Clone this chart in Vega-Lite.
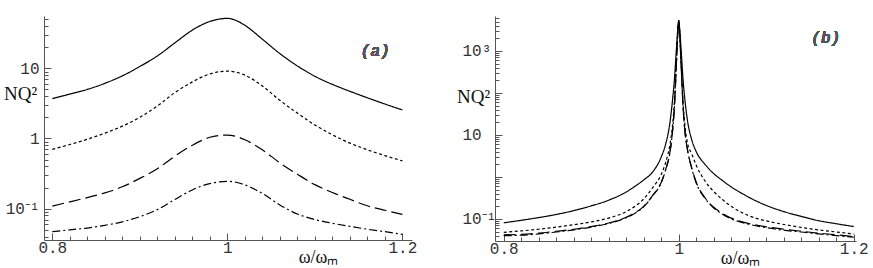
{
  "$schema": "https://vega.github.io/schema/vega-lite/v6.json",
  "padding": {"left": 3, "top": 10, "right": 0, "bottom": 0},
  "spacing": 39,
  "config": {
    "view": {"stroke": null},
    "axis": {"grid": false, "domainColor": "#555", "tickColor": "#555", "labelFont": "Liberation Mono", "labelFontSize": 16, "labelColor": "#333", "labelOverlap": false, "labelFlush": false, "labelBound": false, "titleFontWeight": "normal", "titleColor": "#111", "titleFont": "Liberation Serif", "titleFontSize": 19}
  },
  "hconcat": [
    {
      "width": 368, "height": 224,
      "data": {"values": [
        {"x":0.8,"s":"solid","v":3.7},{"x":0.82,"s":"solid","v":4.3},{"x":0.84,"s":"solid","v":5.0},{"x":0.86,"s":"solid","v":6.1},{"x":0.88,"s":"solid","v":7.8},{"x":0.9,"s":"solid","v":10.6},{"x":0.92,"s":"solid","v":15.0},{"x":0.94,"s":"solid","v":23},{"x":0.96,"s":"solid","v":35},{"x":0.98,"s":"solid","v":46.5},{"x":0.99,"s":"solid","v":50},{"x":1.0,"s":"solid","v":51.5},{"x":1.01,"s":"solid","v":48},{"x":1.02,"s":"solid","v":41},{"x":1.04,"s":"solid","v":26},{"x":1.06,"s":"solid","v":16.2},{"x":1.08,"s":"solid","v":10.8},{"x":1.1,"s":"solid","v":7.7},{"x":1.12,"s":"solid","v":5.9},{"x":1.14,"s":"solid","v":4.7},{"x":1.16,"s":"solid","v":3.8},{"x":1.18,"s":"solid","v":3.1},{"x":1.2,"s":"solid","v":2.55},
        {"x":0.8,"s":"short","v":0.70},{"x":0.82,"s":"short","v":0.82},{"x":0.84,"s":"short","v":0.975},{"x":0.86,"s":"short","v":1.19},{"x":0.88,"s":"short","v":1.5},{"x":0.9,"s":"short","v":2.0},{"x":0.92,"s":"short","v":2.9},{"x":0.94,"s":"short","v":4.5},{"x":0.96,"s":"short","v":6.4},{"x":0.98,"s":"short","v":8.3},{"x":0.99,"s":"short","v":8.9},{"x":1.0,"s":"short","v":9.1},{"x":1.01,"s":"short","v":8.8},{"x":1.02,"s":"short","v":8.0},{"x":1.04,"s":"short","v":5.6},{"x":1.06,"s":"short","v":3.5},{"x":1.08,"s":"short","v":2.3},{"x":1.1,"s":"short","v":1.56},{"x":1.12,"s":"short","v":1.13},{"x":1.14,"s":"short","v":0.86},{"x":1.16,"s":"short","v":0.69},{"x":1.18,"s":"short","v":0.57},{"x":1.2,"s":"short","v":0.48},
        {"x":0.8,"s":"long","v":0.109},{"x":0.82,"s":"long","v":0.125},{"x":0.84,"s":"long","v":0.144},{"x":0.86,"s":"long","v":0.168},{"x":0.88,"s":"long","v":0.205},{"x":0.9,"s":"long","v":0.27},{"x":0.92,"s":"long","v":0.37},{"x":0.94,"s":"long","v":0.56},{"x":0.96,"s":"long","v":0.8},{"x":0.98,"s":"long","v":1.04},{"x":0.99,"s":"long","v":1.1},{"x":1.0,"s":"long","v":1.12},{"x":1.01,"s":"long","v":1.07},{"x":1.02,"s":"long","v":0.96},{"x":1.04,"s":"long","v":0.69},{"x":1.06,"s":"long","v":0.45},{"x":1.08,"s":"long","v":0.31},{"x":1.1,"s":"long","v":0.22},{"x":1.12,"s":"long","v":0.17},{"x":1.14,"s":"long","v":0.136},{"x":1.16,"s":"long","v":0.11},{"x":1.18,"s":"long","v":0.095},{"x":1.2,"s":"long","v":0.083},
        {"x":0.8,"s":"dashdot","v":0.047},{"x":0.82,"s":"dashdot","v":0.05},{"x":0.84,"s":"dashdot","v":0.053},{"x":0.86,"s":"dashdot","v":0.058},{"x":0.88,"s":"dashdot","v":0.065},{"x":0.9,"s":"dashdot","v":0.077},{"x":0.92,"s":"dashdot","v":0.097},{"x":0.94,"s":"dashdot","v":0.135},{"x":0.96,"s":"dashdot","v":0.185},{"x":0.98,"s":"dashdot","v":0.228},{"x":0.99,"s":"dashdot","v":0.24},{"x":1.0,"s":"dashdot","v":0.245},{"x":1.01,"s":"dashdot","v":0.238},{"x":1.02,"s":"dashdot","v":0.218},{"x":1.04,"s":"dashdot","v":0.165},{"x":1.06,"s":"dashdot","v":0.113},{"x":1.08,"s":"dashdot","v":0.084},{"x":1.1,"s":"dashdot","v":0.07},{"x":1.12,"s":"dashdot","v":0.062},{"x":1.14,"s":"dashdot","v":0.056},{"x":1.16,"s":"dashdot","v":0.051},{"x":1.18,"s":"dashdot","v":0.047},{"x":1.2,"s":"dashdot","v":0.043}
      ]},
      "layer": [
        {
          "mark": {"type": "line", "color": "black", "strokeWidth": 1.2, "interpolate": "monotone", "clip": true},
          "encoding": {
            "x": {"field": "x", "type": "quantitative", "scale": {"domain": [0.7905, 1.211], "nice": false, "zero": false},
              "axis": {"values": [0.8,0.82,0.84,0.86,0.88,0.9,0.92,0.94,0.96,0.98,1,1.02,1.04,1.06,1.08,1.1,1.12,1.14,1.16,1.18,1.2],
                "labelExpr": "datum.value > 0.99 && datum.value < 1.01 ? '1' : datum.value < 0.81 ? '0.8' : datum.value > 1.19 ? '1.2' : ''",
                "labelOverlap": false,
                "tickSize": {"condition": {"test": "datum.value > 0.99 && datum.value < 1.01 || datum.value < 0.81 || datum.value > 1.19", "value": -7}, "value": -4},
                "labelPadding": 6,
                "title": "ω/ωₘ", "titleX": 274, "titleY": 22, "titleAlign": "center", "titleBaseline": "alphabetic", "titleFontSize": 18}},
            "y": {"field": "v", "type": "quantitative", "scale": {"type": "log", "domain": [0.0358, 55.6], "nice": false},
              "axis": {"values": [0.04,0.05,0.06,0.07,0.08,0.09,0.1,0.2,0.3,0.4,0.5,0.6,0.7,0.8,0.9,1,2,3,4,5,6,7,8,9,10,20,30,40,50],
                "labelExpr": "datum.value == 0.1 ? '10⁻¹' : datum.value == 1 ? '1' : datum.value == 10 ? '10' : ''",
                "labelOverlap": false,
                "tickSize": {"condition": {"test": "datum.value == 0.1 || datum.value == 1 || datum.value == 10", "value": -7}, "value": -4},
                "labelPadding": 12,
                "title": "NQ²", "titleAngle": 0, "titleX": -24, "titleY": 83, "titleAlign": "center", "titleBaseline": "alphabetic", "titleFontSize": 19}},
            "strokeDash": {"field": "s", "type": "nominal", "scale": {"domain": ["solid","short","long","dashdot"], "range": [[1,0],[3,2.5],[12,5],[8,3,2,3]]}, "legend": null}
          }
        },
        {
          "mark": {"type": "text", "text": "(a)", "font": "Liberation Mono", "fontStyle": "italic", "fontWeight": "normal", "fontSize": 16, "align": "center", "baseline": "middle", "color": "#555"},
          "encoding": {
            "x": {"datum": 1.169, "type": "quantitative", "scale": {"domain": [0.7905, 1.211], "nice": false, "zero": false},
              "axis": {"values": [0.8,0.82,0.84,0.86,0.88,0.9,0.92,0.94,0.96,0.98,1,1.02,1.04,1.06,1.08,1.1,1.12,1.14,1.16,1.18,1.2],
                "labelExpr": "datum.value > 0.99 && datum.value < 1.01 ? '1' : datum.value < 0.81 ? '0.8' : datum.value > 1.19 ? '1.2' : ''",
                "labelOverlap": false,
                "tickSize": {"condition": {"test": "datum.value > 0.99 && datum.value < 1.01 || datum.value < 0.81 || datum.value > 1.19", "value": -7}, "value": -4},
                "labelPadding": 6,
                "title": "ω/ωₘ", "titleX": 274, "titleY": 22, "titleAlign": "center", "titleBaseline": "alphabetic", "titleFontSize": 18}},
            "y": {"datum": 17.6, "type": "quantitative", "scale": {"type": "log", "domain": [0.0358, 55.6], "nice": false},
              "axis": {"values": [0.04,0.05,0.06,0.07,0.08,0.09,0.1,0.2,0.3,0.4,0.5,0.6,0.7,0.8,0.9,1,2,3,4,5,6,7,8,9,10,20,30,40,50],
                "labelExpr": "datum.value == 0.1 ? '10⁻¹' : datum.value == 1 ? '1' : datum.value == 10 ? '10' : ''",
                "labelOverlap": false,
                "tickSize": {"condition": {"test": "datum.value == 0.1 || datum.value == 1 || datum.value == 10", "value": -7}, "value": -4},
                "labelPadding": 12,
                "title": "NQ²", "titleAngle": 0, "titleX": -24, "titleY": 83, "titleAlign": "center", "titleBaseline": "alphabetic", "titleFontSize": 19}}
          }
        }
      ]
    },
    {
      "width": 361, "height": 225,
      "data": {"values": [
        {"x":0.8,"s":"solid","v":0.081},{"x":0.82,"s":"solid","v":0.093},{"x":0.84,"s":"solid","v":0.108},{"x":0.86,"s":"solid","v":0.128},{"x":0.88,"s":"solid","v":0.158},{"x":0.9,"s":"solid","v":0.205},{"x":0.92,"s":"solid","v":0.28},{"x":0.94,"s":"solid","v":0.44},{"x":0.95,"s":"solid","v":0.6},{"x":0.96,"s":"solid","v":0.85},{"x":0.97,"s":"solid","v":1.3},{"x":0.98,"s":"solid","v":3.0},{"x":0.985,"s":"solid","v":6.0},{"x":0.99,"s":"solid","v":20},{"x":0.9925,"s":"solid","v":56},{"x":0.995,"s":"solid","v":200},{"x":0.9975,"s":"solid","v":1260},{"x":0.999,"s":"solid","v":3500},{"x":1.0,"s":"solid","v":5300},{"x":1.001,"s":"solid","v":3500},{"x":1.0025,"s":"solid","v":1260},{"x":1.005,"s":"solid","v":200},{"x":1.0075,"s":"solid","v":56},{"x":1.01,"s":"solid","v":22},{"x":1.015,"s":"solid","v":7.5},{"x":1.02,"s":"solid","v":4.0},{"x":1.03,"s":"solid","v":2.0},{"x":1.04,"s":"solid","v":1.2},{"x":1.05,"s":"solid","v":0.82},{"x":1.06,"s":"solid","v":0.58},{"x":1.08,"s":"solid","v":0.33},{"x":1.1,"s":"solid","v":0.21},{"x":1.12,"s":"solid","v":0.15},{"x":1.14,"s":"solid","v":0.115},{"x":1.16,"s":"solid","v":0.091},{"x":1.18,"s":"solid","v":0.077},{"x":1.2,"s":"solid","v":0.066},
        {"x":0.8,"s":"short","v":0.048},{"x":0.82,"s":"short","v":0.052},{"x":0.84,"s":"short","v":0.057},{"x":0.86,"s":"short","v":0.064},{"x":0.88,"s":"short","v":0.073},{"x":0.9,"s":"short","v":0.085},{"x":0.92,"s":"short","v":0.105},{"x":0.94,"s":"short","v":0.15},{"x":0.95,"s":"short","v":0.2},{"x":0.96,"s":"short","v":0.3},{"x":0.97,"s":"short","v":0.55},{"x":0.98,"s":"short","v":1.15},{"x":0.985,"s":"short","v":2.2},{"x":0.99,"s":"short","v":6},{"x":0.9925,"s":"short","v":14},{"x":0.995,"s":"short","v":60},{"x":0.9975,"s":"short","v":700},{"x":0.999,"s":"short","v":3000},{"x":1.0,"s":"short","v":5300},{"x":1.001,"s":"short","v":3000},{"x":1.0025,"s":"short","v":700},{"x":1.005,"s":"short","v":60},{"x":1.0075,"s":"short","v":14},{"x":1.01,"s":"short","v":6.5},{"x":1.015,"s":"short","v":3.5},{"x":1.02,"s":"short","v":1.9},{"x":1.03,"s":"short","v":0.8},{"x":1.04,"s":"short","v":0.45},{"x":1.05,"s":"short","v":0.29},{"x":1.06,"s":"short","v":0.2},{"x":1.08,"s":"short","v":0.12},{"x":1.1,"s":"short","v":0.09},{"x":1.12,"s":"short","v":0.074},{"x":1.14,"s":"short","v":0.063},{"x":1.16,"s":"short","v":0.055},{"x":1.18,"s":"short","v":0.049},{"x":1.2,"s":"short","v":0.044},
        {"x":0.8,"s":"long","v":0.042},{"x":0.82,"s":"long","v":0.043},{"x":0.84,"s":"long","v":0.046},{"x":0.86,"s":"long","v":0.051},{"x":0.88,"s":"long","v":0.057},{"x":0.9,"s":"long","v":0.066},{"x":0.92,"s":"long","v":0.08},{"x":0.94,"s":"long","v":0.11},{"x":0.95,"s":"long","v":0.14},{"x":0.96,"s":"long","v":0.2},{"x":0.97,"s":"long","v":0.36},{"x":0.98,"s":"long","v":0.75},{"x":0.985,"s":"long","v":1.5},{"x":0.99,"s":"long","v":4.0},{"x":0.9925,"s":"long","v":10},{"x":0.995,"s":"long","v":45},{"x":0.9975,"s":"long","v":600},{"x":0.999,"s":"long","v":2800},{"x":1.0,"s":"long","v":5300},{"x":1.001,"s":"long","v":2800},{"x":1.0025,"s":"long","v":600},{"x":1.005,"s":"long","v":45},{"x":1.0075,"s":"long","v":10},{"x":1.01,"s":"long","v":4.5},{"x":1.015,"s":"long","v":1.6},{"x":1.02,"s":"long","v":0.75},{"x":1.03,"s":"long","v":0.32},{"x":1.04,"s":"long","v":0.19},{"x":1.05,"s":"long","v":0.135},{"x":1.06,"s":"long","v":0.105},{"x":1.08,"s":"long","v":0.078},{"x":1.1,"s":"long","v":0.065},{"x":1.12,"s":"long","v":0.057},{"x":1.14,"s":"long","v":0.051},{"x":1.16,"s":"long","v":0.046},{"x":1.18,"s":"long","v":0.042},{"x":1.2,"s":"long","v":0.038},
        {"x":0.8,"s":"dashdot","v":0.040},{"x":0.82,"s":"dashdot","v":0.041},{"x":0.84,"s":"dashdot","v":0.044},{"x":0.86,"s":"dashdot","v":0.049},{"x":0.88,"s":"dashdot","v":0.055},{"x":0.9,"s":"dashdot","v":0.064},{"x":0.92,"s":"dashdot","v":0.078},{"x":0.94,"s":"dashdot","v":0.107},{"x":0.95,"s":"dashdot","v":0.137},{"x":0.96,"s":"dashdot","v":0.196},{"x":0.97,"s":"dashdot","v":0.35},{"x":0.98,"s":"dashdot","v":0.73},{"x":0.985,"s":"dashdot","v":1.45},{"x":0.99,"s":"dashdot","v":3.9},{"x":0.9925,"s":"dashdot","v":10},{"x":0.995,"s":"dashdot","v":44},{"x":0.9975,"s":"dashdot","v":590},{"x":0.999,"s":"dashdot","v":2800},{"x":1.0,"s":"dashdot","v":5300},{"x":1.001,"s":"dashdot","v":2800},{"x":1.0025,"s":"dashdot","v":590},{"x":1.005,"s":"dashdot","v":44},{"x":1.0075,"s":"dashdot","v":10},{"x":1.01,"s":"dashdot","v":4.4},{"x":1.015,"s":"dashdot","v":1.55},{"x":1.02,"s":"dashdot","v":0.72},{"x":1.03,"s":"dashdot","v":0.31},{"x":1.04,"s":"dashdot","v":0.183},{"x":1.05,"s":"dashdot","v":0.13},{"x":1.06,"s":"dashdot","v":0.101},{"x":1.08,"s":"dashdot","v":0.075},{"x":1.1,"s":"dashdot","v":0.062},{"x":1.12,"s":"dashdot","v":0.054},{"x":1.14,"s":"dashdot","v":0.049},{"x":1.16,"s":"dashdot","v":0.044},{"x":1.18,"s":"dashdot","v":0.04},{"x":1.2,"s":"dashdot","v":0.037}
      ]},
      "layer": [
        {
          "mark": {"type": "line", "color": "black", "strokeWidth": 1.2, "interpolate": "monotone", "clip": true},
          "encoding": {
            "x": {"field": "x", "type": "quantitative", "scale": {"domain": [0.79, 1.2026], "nice": false, "zero": false},
              "axis": {"values": [0.8,0.82,0.84,0.86,0.88,0.9,0.92,0.94,0.96,0.98,1,1.02,1.04,1.06,1.08,1.1,1.12,1.14,1.16,1.18,1.2],
                "labelExpr": "datum.value > 0.99 && datum.value < 1.01 ? '1' : datum.value < 0.81 ? '0.8' : datum.value > 1.19 ? '1.2' : ''",
                "labelOverlap": false,
                "tickSize": {"condition": {"test": "datum.value > 0.99 && datum.value < 1.01 || datum.value < 0.81 || datum.value > 1.19", "value": -7}, "value": -4},
                "labelPadding": 6,
                "title": "ω/ωₘ", "titleX": 245, "titleY": 22, "titleAlign": "center", "titleBaseline": "alphabetic", "titleFontSize": 18}},
            "y": {"field": "v", "type": "quantitative", "scale": {"type": "log", "domain": [0.0299, 6780], "nice": false},
              "axis": {"values": [0.03,0.04,0.05,0.06,0.07,0.08,0.09,0.1,0.2,0.3,0.4,0.5,0.6,0.7,0.8,0.9,1,2,3,4,5,6,7,8,9,10,20,30,40,50,60,70,80,90,100,200,300,400,500,600,700,800,900,1000,2000,3000,4000,5000,6000],
                "labelExpr": "datum.value == 0.1 ? '10⁻¹' : datum.value == 10 ? '10' : datum.value == 1000 ? '10³' : ''",
                "labelOverlap": false,
                "tickSize": {"condition": {"test": "datum.value == 0.1 || datum.value == 1 || datum.value == 10 || datum.value == 100 || datum.value == 1000", "value": -7}, "value": -4},
                "labelAlign": "left",
                "labelPadding": 40,
                "title": "NQ²", "titleAngle": 0, "titleX": -22, "titleY": 86, "titleAlign": "center", "titleBaseline": "alphabetic", "titleFontSize": 19}},
            "strokeDash": {"field": "s", "type": "nominal", "scale": {"domain": ["solid","short","long","dashdot"], "range": [[1,0],[3,2.5],[12,5],[8,3,2,3]]}, "legend": null}
          }
        },
        {
          "mark": {"type": "text", "text": "(b)", "font": "Liberation Mono", "fontStyle": "italic", "fontWeight": "normal", "fontSize": 16, "align": "center", "baseline": "middle", "color": "#555"},
          "encoding": {
            "x": {"datum": 1.168, "type": "quantitative", "scale": {"domain": [0.79, 1.2026], "nice": false, "zero": false},
              "axis": {"values": [0.8,0.82,0.84,0.86,0.88,0.9,0.92,0.94,0.96,0.98,1,1.02,1.04,1.06,1.08,1.1,1.12,1.14,1.16,1.18,1.2],
                "labelExpr": "datum.value > 0.99 && datum.value < 1.01 ? '1' : datum.value < 0.81 ? '0.8' : datum.value > 1.19 ? '1.2' : ''",
                "labelOverlap": false,
                "tickSize": {"condition": {"test": "datum.value > 0.99 && datum.value < 1.01 || datum.value < 0.81 || datum.value > 1.19", "value": -7}, "value": -4},
                "labelPadding": 6,
                "title": "ω/ωₘ", "titleX": 245, "titleY": 22, "titleAlign": "center", "titleBaseline": "alphabetic", "titleFontSize": 18}},
            "y": {"datum": 2040, "type": "quantitative", "scale": {"type": "log", "domain": [0.0299, 6780], "nice": false},
              "axis": {"values": [0.03,0.04,0.05,0.06,0.07,0.08,0.09,0.1,0.2,0.3,0.4,0.5,0.6,0.7,0.8,0.9,1,2,3,4,5,6,7,8,9,10,20,30,40,50,60,70,80,90,100,200,300,400,500,600,700,800,900,1000,2000,3000,4000,5000,6000],
                "labelExpr": "datum.value == 0.1 ? '10⁻¹' : datum.value == 10 ? '10' : datum.value == 1000 ? '10³' : ''",
                "labelOverlap": false,
                "tickSize": {"condition": {"test": "datum.value == 0.1 || datum.value == 1 || datum.value == 10 || datum.value == 100 || datum.value == 1000", "value": -7}, "value": -4},
                "labelAlign": "left",
                "labelPadding": 40,
                "title": "NQ²", "titleAngle": 0, "titleX": -22, "titleY": 86, "titleAlign": "center", "titleBaseline": "alphabetic", "titleFontSize": 19}}
          }
        }
      ]
    }
  ]
}
